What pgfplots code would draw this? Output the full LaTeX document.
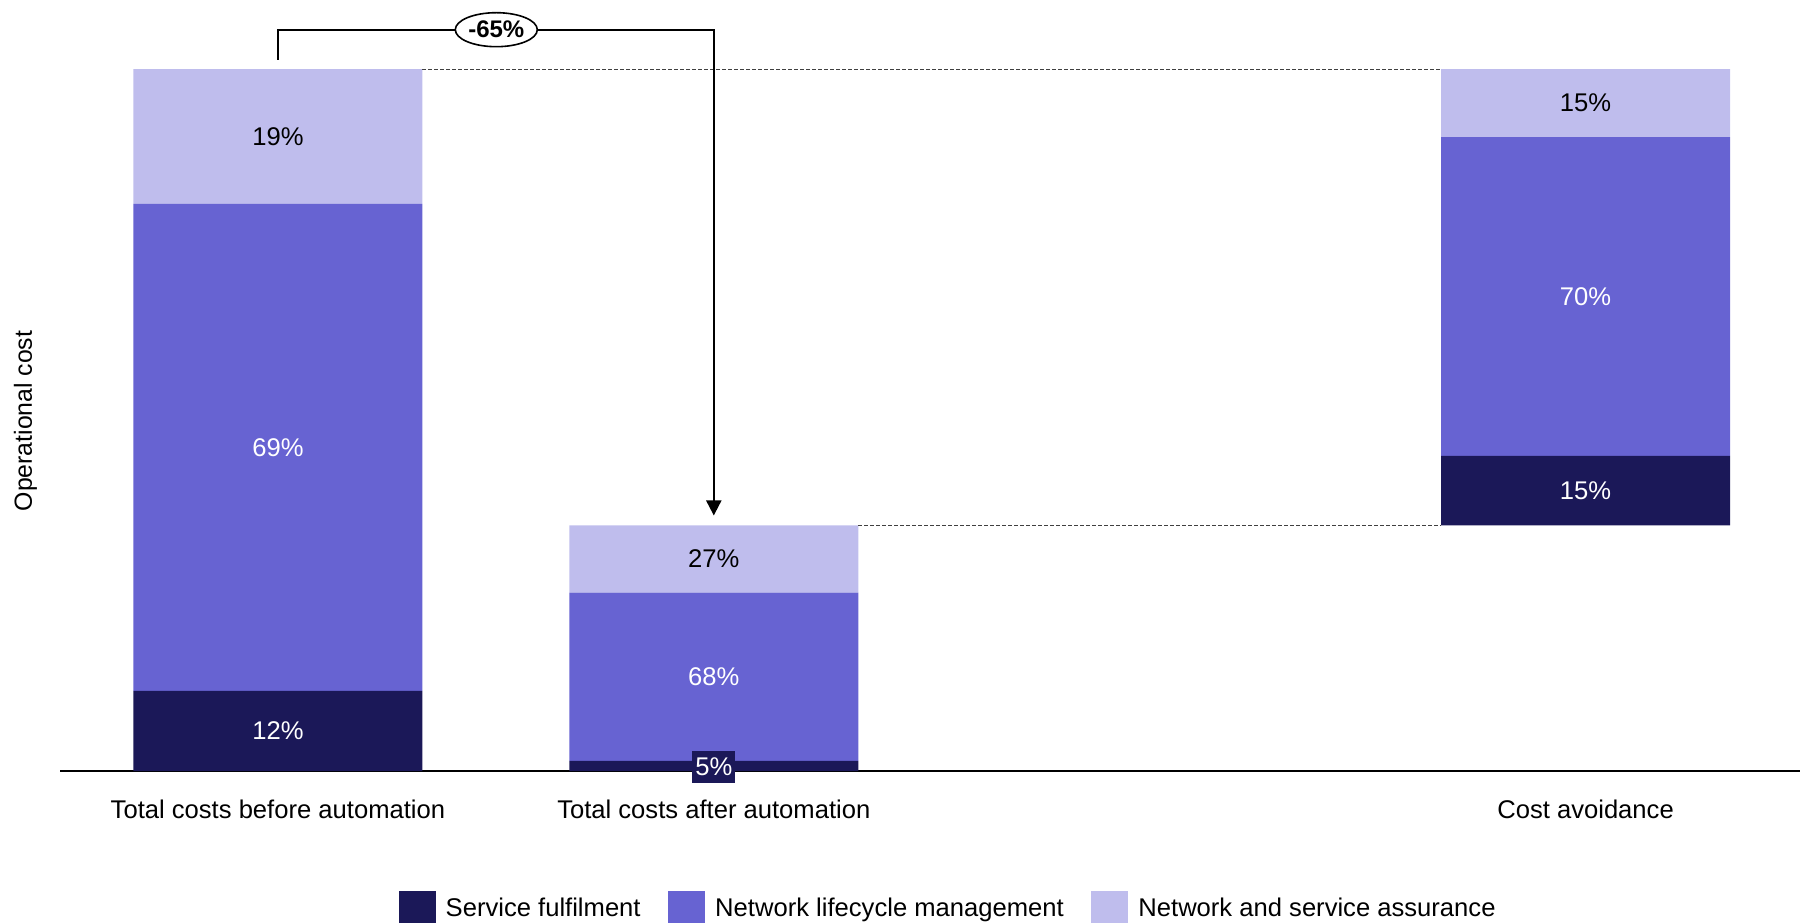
\documentclass[border=0pt]{standalone}
\usepackage{fontspec}
\setmainfont{Liberation Sans}
\usepackage{pgfplots}
\pgfplotsset{compat=1.18}
\usetikzlibrary{arrows.meta,shapes.geometric}
\definecolor{cdark}{RGB}{27,24,88}
\definecolor{cmid}{RGB}{103,99,210}
\definecolor{clight}{RGB}{191,189,237}
\begin{document}
\fontsize{12.8pt}{15pt}\selectfont
\begin{tikzpicture}
\useasboundingbox (-30pt,-75.5pt) rectangle (870pt,385.5pt);
\begin{axis}[
  at={(0,0)}, anchor=south west,
  scale only axis, width=870pt, height=385.5pt,
  ybar stacked, bar width=144.5pt,
  xmin=-0.5, xmax=3.492, ymin=0, ymax=109.83,
  axis x line=bottom, axis y line=none,
  axis line style={-, line width=0.8pt, black},
  xtick={0,1,3},
  xticklabels={Total costs before automation, Total costs after automation, Cost avoidance},
  major tick length=0pt, ytick=\empty,
  xticklabel style={anchor=center, yshift=-19pt, font=\fontsize{12.8pt}{15pt}\selectfont},
  clip=false,
  legend columns=3,
  legend cell align=left,
  legend style={draw=none, fill=none, at={(0.511,-0.179)}, anchor=center,
    font=\fontsize{12.8pt}{15pt}\selectfont,
    /tikz/every odd column/.append style={column sep=3pt},
    /tikz/every even column/.append style={column sep=11.8pt}},
  legend image code/.code={\fill[#1] (0pt,-9.25pt) rectangle (18.5pt,9.25pt);},
  after end axis/.code={
    \draw[dash pattern=on 2pt off 1pt, line width=0.5pt, black!75] (axis cs:0.3316,100) -- (axis cs:2.6684,100);
    \draw[dash pattern=on 2pt off 1pt, line width=0.5pt, black!75] (axis cs:1.3316,35) -- (axis cs:2.6684,35);
    \node[text=white] at (axis cs:0,5.7) {12\%};
    \node[text=white] at (axis cs:0,46.1) {69\%};
    \node[text=black] at (axis cs:0,90.4) {19\%};
    \node[fill=cdark, text=white, inner sep=0pt, minimum width=21.5pt, minimum height=16pt] at (axis cs:1,0.57) {5\%};
    \node[text=white] at (axis cs:1,13.4) {68\%};
    \node[text=black] at (axis cs:1,30.2) {27\%};
    \node[text=white] at (axis cs:3,39.95) {15\%};
    \node[text=white] at (axis cs:3,67.6) {70\%};
    \node[text=black] at (axis cs:3,95.15) {15\%};
    \draw[line width=1pt, -{Triangle[width=7.5pt,length=7.5pt]}] (axis cs:0,101.3) |- (axis cs:1,105.6) -- (axis cs:1,36.4);
    \node[draw, ellipse, line width=0.8pt, fill=white, inner sep=0pt, minimum width=41pt, minimum height=17pt, font=\bfseries\fontsize{12pt}{14pt}\selectfont] at (axis cs:0.501,105.6) {-65\%};
    \node[rotate=90, font=\fontsize{12.4pt}{15pt}\selectfont] at (axis description cs:-0.0199,0.454) {Operational cost};
  },
]
\addplot[draw=none, fill=none, forget plot] coordinates {(0,0) (1,0) (3,35)};
\addplot[fill=cdark, draw=none] coordinates {(0,11.4) (1,1.45) (3,9.9)};
\addplot[fill=cmid, draw=none] coordinates {(0,69.4) (1,23.95) (3,45.4)};
\addplot[fill=clight, draw=none] coordinates {(0,19.2) (1,9.6) (3,9.7)};
\legend{Service fulfilment, Network lifecycle management, Network and service assurance}
\end{axis}
\end{tikzpicture}
\end{document}
